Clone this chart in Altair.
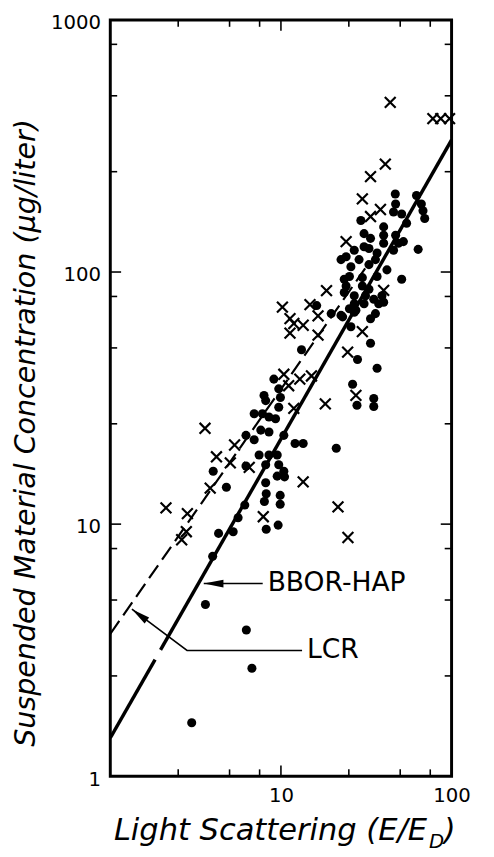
import altair as alt
import pandas as pd

W, H = 347, 769

# ---- data ----------------------------------------------------------------
dots_x = [46.8, 47, 45.7, 51, 62.3, 66.5, 68, 69.6, 29.4, 40, 30.7, 54.5, 40, 47, 33.5,
          26.9, 32.8, 36.6, 48.8, 52.2, 63.7, 28.7, 22.5, 25.7, 35.8, 25.2, 23.5, 41.8, 51,
          30, 32.8, 26.9, 23.5, 35, 39.1, 26.9, 30.7, 40, 35.8, 27.5, 19.7, 22.5, 16.2, 23,
          26.9, 25.7, 33.5, 13.2, 28.1, 36.6, 26.3, 27.9, 35, 35, 21.1, 12.1, 13.5,
          9.09, 9.71, 7.96, 9.93, 8.14, 9.71, 6.97, 7.79, 8.51, 9.3, 7.62, 8.51, 6.24, 6.97,
          10.4, 7.45, 8.51, 9.51, 8.14, 9.71, 10.4, 9.51, 6.24, 4.01, 8.14, 4.79, 8.2, 8.0,
          9.9, 9.9, 6.14, 5.61, 4.31, 5.25, 8.2, 9.63, 3.98, 3.61, 6.27, 6.76, 3.0, 10.5,
          40, 30.7, 45.7, 24.1, 32.8, 36.6, 30, 24.1, 31.3, 37.4, 25.2, 33.5]
dots_y = [204, 186, 173, 170, 201, 186, 175, 163, 160, 151, 142, 156, 140, 140, 136,
          122, 124, 119, 130, 132, 123, 112, 112, 105, 112, 96, 93.6, 102, 93.6,
          88, 85.5, 80.5, 83, 78, 80.5, 74.8, 74.8, 75.9, 68.4, 70.5, 68.4, 67.3, 73.6, 66.4,
          69.3, 60.7, 52.2, 49.2, 45, 41.5, 35.9, 29.6, 31.5, 29.3, 20, 20.9, 20.9,
          37.6, 34.4, 32.4, 31.8, 30.9, 29.1, 27.4, 27.4, 26.6, 26.2, 23.6, 23.2, 22.5, 21.6,
          22.5, 18.8, 18.8, 18.8, 17.2, 17.2, 16.2, 15.5, 17, 16.2, 14.6, 14, 13.2, 12.3,
          13, 12, 11.9, 10.6, 9.19, 9.33, 9.55, 9.91, 7.45, 4.8, 3.8, 2.68, 1.63, 15.4,
          130, 126, 122, 115, 107, 96, 95, 88, 80.5, 74.8, 71.5, 65.3]

cross_x = [43.7, 77.7, 86.4, 97.3, 40.9, 33.5, 30, 38.3, 33.5, 24.1,
           18.5, 14.8, 11.3, 16.5, 40, 10.2, 11.9, 13.5, 11.3, 16.5, 24.6, 30,
           10.4, 12.9, 15.1, 11.1, 18.2, 11.9, 27.5,
           3.59, 5.35, 4.19, 5.05, 6.52, 13.5, 3.85, 2.12, 2.83, 2.79, 2.62, 7.88, 21.6, 24.7]
cross_y = [471, 406, 406, 406, 268, 239, 195, 177, 166, 132,
           84.4, 74.2, 65.3, 67, 84.6, 72.6, 62.5, 61.5, 57.2, 56.2, 48.1, 58,
           39.3, 37.6, 38.7, 35.4, 30, 28.8, 32.4,
           24, 20.6, 18.5, 17.5, 16.8, 14.7, 13.9, 11.6, 11, 9.33, 8.67, 10.7, 11.7, 8.85]

# fitted lines (end points)
bbor_x = [1, 1.83, 1.97, 100]
bbor_y = [1.42, 2.9, 3.17, 334]
bbor_seg = [0, 0, 1, 1]
lcr_x = [1, 32]
lcr_y = [3.67, 106]

# annotation leaders (data coordinates)
bbor_arrow_x = [3.53, 7.82]
bbor_arrow_y = [5.81, 5.81]
lcr_arrow_x = [1.339, 2.817, 13.3]
lcr_arrow_y = [4.60, 3.155, 3.155]
labels_text = ["BBOR-HAP", "LCR"]
labels_x = [8.36, 14.2]
labels_y = [5.81, 3.155]

# axes
x_labels = [10, 100]
y_labels = [1, 10, 100, 1000]
x_ticks_major = [10]
x_ticks_minor = [2.5, 5, 7.5, 25, 50, 75]
y_ticks_major = [10, 100]
y_ticks_minor = [2.5, 5, 8, 25, 50, 80, 250, 500, 800]

y_title = "Suspended Material Concentration (\u03bcg/liter)"

# ---- chart -----------------------------------------------------------------
FONT = "DejaVu Sans"
xs = alt.Scale(type="log", domain=[1, 100], nice=False)
ys = alt.Scale(type="log", domain=[1, 1000], nice=False)
xaxis = alt.Axis(values=x_labels, format="d", title=None, ticks=False, domain=False,
                 grid=False, labelPadding=10, labelFontSize=20, labelFont=FONT,
                 labelColor="black", labelFlush=False, labelOverlap=False)
yaxis = alt.Axis(values=y_labels, format="d", title=None, ticks=False, domain=False,
                 grid=False, labelPadding=10, labelFontSize=20, labelFont=FONT,
                 labelColor="black", labelFlush=False, labelOverlap=False, labelOffset=3)


def X(f):
    return alt.X(f, type="quantitative", scale=xs, axis=xaxis)


def Y(f):
    return alt.Y(f, type="quantitative", scale=ys, axis=yaxis)


dots = pd.DataFrame({"x": dots_x, "y": dots_y})
crosses = pd.DataFrame({"x": cross_x, "y": cross_y})
bbor = pd.DataFrame({"x": bbor_x, "y": bbor_y, "seg": bbor_seg})
lcr = pd.DataFrame({"x": lcr_x, "y": lcr_y})

lcr_line = alt.Chart(lcr).mark_line(color="black", strokeWidth=2.2, strokeDash=[16, 7],
                                    clip=True).encode(x=X("x"), y=Y("y"))
bbor_line = alt.Chart(bbor).mark_line(color="black", strokeWidth=3.5, clip=True).encode(
    x=X("x"), y=Y("y"), detail="seg:N")

dot_layer = alt.Chart(dots).mark_point(shape="circle", filled=True, size=85, color="black",
                                       opacity=1).encode(x=X("x"), y=Y("y"))
cross_layer = alt.Chart(crosses).mark_point(shape="M-1,-1L1,1M-1,1L1,-1", filled=False,
                                            size=121, color="black", strokeWidth=2.2,
                                            opacity=1).encode(x=X("x"), y=Y("y"))

bbor_lead = alt.Chart(pd.DataFrame({"x": bbor_arrow_x, "y": bbor_arrow_y})).mark_line(
    color="black", strokeWidth=1.6).encode(x=X("x"), y=Y("y"))
lcr_lead = alt.Chart(pd.DataFrame({"x": lcr_arrow_x, "y": lcr_arrow_y,
                                   "o": list(range(len(lcr_arrow_x)))})).mark_line(
    color="black", strokeWidth=1.6).encode(x=X("x"), y=Y("y"), order="o:Q")

ARROW = "M0,0L2,-0.4L2,0.4Z"
bbor_head = alt.Chart(pd.DataFrame({"x": bbor_arrow_x[:1], "y": bbor_arrow_y[:1]})).mark_point(
    shape=ARROW, filled=True, size=400, color="black", opacity=1, angle=0).encode(
    x=X("x"), y=Y("y"))
lcr_head = alt.Chart(pd.DataFrame({"x": lcr_arrow_x[:1], "y": lcr_arrow_y[:1]})).mark_point(
    shape=ARROW, filled=True, size=361, color="black", opacity=1, angle=37).encode(
    x=X("x"), y=Y("y"))

label_layer = alt.Chart(pd.DataFrame({"x": labels_x, "y": labels_y, "t": labels_text})).mark_text(
    align="left", baseline="middle", font=FONT, fontSize=27, color="black").encode(
    x=X("x"), y=Y("y"), text="t:N")


def xticks(vals, length):
    df = pd.DataFrame({"v": vals})
    top = alt.Chart(df).mark_rule(color="black", strokeWidth=1.6).encode(
        x=X("v"), y=alt.value(0), y2=alt.value(length))
    bot = alt.Chart(df).mark_rule(color="black", strokeWidth=1.6).encode(
        x=X("v"), y=alt.value(H), y2=alt.value(H - length))
    return [top, bot]


def yticks(vals, length):
    df = pd.DataFrame({"v": vals})
    left = alt.Chart(df).mark_rule(color="black", strokeWidth=1.6).encode(
        y=Y("v"), x=alt.value(0), x2=alt.value(length))
    right = alt.Chart(df).mark_rule(color="black", strokeWidth=1.6).encode(
        y=Y("v"), x=alt.value(W), x2=alt.value(W - length))
    return [left, right]


tick_layers = (xticks(x_ticks_major, 11) + xticks(x_ticks_minor, 7)
               + yticks(y_ticks_major, 11) + yticks(y_ticks_minor, 7))

one = pd.DataFrame({"a": [0]})
ytitle = alt.Chart(one).mark_text(angle=270, align="center", baseline="middle", font=FONT,
                                  fontSize=29, fontStyle="italic", color="black").encode(
    x=alt.value(-86), y=alt.value(420), text=alt.value(y_title))
xt_main = alt.Chart(one).mark_text(align="right", baseline="alphabetic", font=FONT,
                                   fontSize=31, fontStyle="italic", color="black").encode(
    x=alt.value(322), y=alt.value(834), text=alt.value("Light Scattering (E/E"))
xt_sub = alt.Chart(one).mark_text(align="left", baseline="alphabetic", font=FONT,
                                  fontSize=20, fontStyle="italic", color="black").encode(
    x=alt.value(324), y=alt.value(842), text=alt.value("D"))
xt_close = alt.Chart(one).mark_text(align="left", baseline="alphabetic", font=FONT,
                                    fontSize=31, fontStyle="italic", color="black").encode(
    x=alt.value(339), y=alt.value(834), text=alt.value(")"))

chart = alt.layer(
    dot_layer, cross_layer, lcr_line, bbor_line, bbor_lead, lcr_lead, bbor_head, lcr_head,
    label_layer, *tick_layers, ytitle, xt_main, xt_sub, xt_close
).properties(
    width=W, height=H,
    padding={"left": 104, "top": 5, "right": 35, "bottom": 75},
    autosize=alt.AutoSizeParams(type="none"),
    background="white",
).configure_view(stroke="black", strokeWidth=3)

chart.save("out.html", embed_options={"renderer": "svg", "actions": False})
